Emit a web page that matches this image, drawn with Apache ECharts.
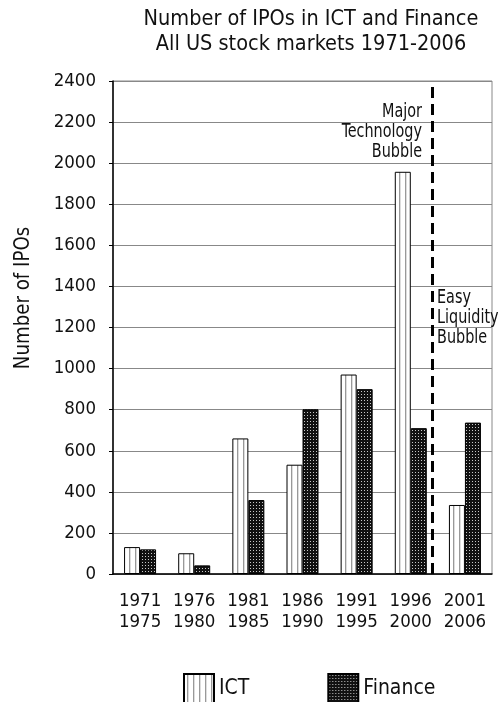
<!DOCTYPE html>
<html>
<head>
<meta charset="utf-8">
<script src="https://cdn.jsdelivr.net/npm/echarts@6/dist/echarts.min.js"></script>
<style>
  html, body { margin: 0; padding: 0; background: #fff; }
  #chart { width: 504px; height: 702px; }
</style>
</head>
<body>
<div id="chart"></div>
<script>
const periods = ['1971\n1975', '1976\n1980', '1981\n1985', '1986\n1990', '1991\n1995', '1996\n2000', '2001\n2006']
const ict = [131, 101, 660, 532, 971, 1958, 336]
const finance = [120, 42, 360, 802, 900, 710, 737]
const bubbleSplit = 5.9 // position between the last two periods

const FONT = "'Liberation Sans Narrow', 'Arial Narrow', 'DejaVu Sans Condensed', sans-serif"

// fill patterns for the bars
function stripePattern() {
  const c = document.createElement('canvas')
  c.width = 6
  c.height = 6
  const ctx = c.getContext('2d')
  ctx.fillStyle = '#fff'
  ctx.fillRect(0, 0, 6, 6)
  ctx.fillStyle = '#999'
  ctx.fillRect(3, 0, 1, 6)
  ctx.fillStyle = '#ddd'
  ctx.fillRect(4, 0, 1, 6)
  return c
}
function dotPattern() {
  const c = document.createElement('canvas')
  c.width = 3
  c.height = 3
  const ctx = c.getContext('2d')
  ctx.fillStyle = '#111'
  ctx.fillRect(0, 0, 3, 3)
  ctx.fillStyle = '#c8c8c8'
  ctx.fillRect(1, 1, 1, 1)
  return c
}

const chart = echarts.init(document.getElementById('chart'))

chart.setOption({
  animation: false,
  textStyle: { fontFamily: FONT },
  title: {
    text: 'Number of IPOs in ICT and Finance\nAll US stock markets 1971-2006',
    left: 306,
    top: 2,
    textAlign: 'center',
    textStyle: { fontFamily: FONT, fontSize: 21.5, fontWeight: 'normal', color: '#111', lineHeight: 25 }
  },
  grid: { left: 113, right: 12, top: 81, bottom: 128, show: true, borderColor: '#888', borderWidth: 1 },
  legend: {
    left: 178,
    top: 668,
    icon: 'rect',
    itemWidth: 30,
    itemHeight: 29,
    itemGap: 78,
    textStyle: { fontFamily: FONT, fontSize: 21, color: '#111' },
    data: ['ICT', 'Finance']
  },
  xAxis: [
    {
      type: 'category',
      data: periods,
      axisLine: { lineStyle: { color: '#000', width: 1.5 } },
      axisTick: { length: 5, lineStyle: { color: '#000' } },
      axisLabel: { fontFamily: FONT, fontSize: 18.5, lineHeight: 21, color: '#111', margin: 17, interval: 0 }
    },
    {
      type: 'value',
      min: 0,
      max: 7,
      show: false
    }
  ],
  yAxis: {
    type: 'value',
    min: 0,
    max: 2400,
    interval: 200,
    axisLine: { show: true, lineStyle: { color: '#000', width: 1.5 } },
    axisTick: { show: true, length: 4, lineStyle: { color: '#000' } },
    axisLabel: { fontFamily: FONT, fontSize: 18.5, color: '#111', margin: 17, formatter: v => String(v) },
    splitLine: { lineStyle: { color: '#888', width: 1 } }
  },
  graphic: [
    {
      type: 'text',
      x: 23,
      y: 298,
      rotation: Math.PI / 2,
      scaleX: 0.92,
      style: { text: 'Number of IPOs', font: '22px ' + FONT, fill: '#111', align: 'center', verticalAlign: 'middle' }
    },
    {
      type: 'text',
      x: 422,
      y: 102,
      scaleX: 0.8,
      style: { text: 'Major\nTechnology\nBubble', font: '20px ' + FONT, fill: '#111', align: 'right', verticalAlign: 'top', lineHeight: 20 }
    },
    {
      type: 'text',
      x: 437,
      y: 288,
      scaleX: 0.8,
      style: { text: 'Easy\nLiquidity\nBubble', font: '20px ' + FONT, fill: '#111', align: 'left', verticalAlign: 'top', lineHeight: 20 }
    }
  ],
  series: [
    {
      name: 'ICT',
      type: 'bar',
      data: ict,
      barWidth: 16,
      barGap: '0%',
      itemStyle: { color: { image: stripePattern(), repeat: 'repeat' }, borderColor: '#000', borderWidth: 1 }
    },
    {
      name: 'Finance',
      type: 'bar',
      data: finance,
      barWidth: 16,
      barGap: '0%',
      itemStyle: { color: { image: dotPattern(), repeat: 'repeat' }, borderColor: '#000', borderWidth: 1 }
    },
    {
      type: 'line',
      xAxisIndex: 1,
      data: [],
      silent: true,
      markLine: {
        symbol: 'none',
        silent: true,
        label: { show: false },
        lineStyle: { color: '#000', width: 3, type: [11, 6] },
        data: [{ xAxis: bubbleSplit }]
      }
    }
  ]
})
</script>
</body>
</html>
